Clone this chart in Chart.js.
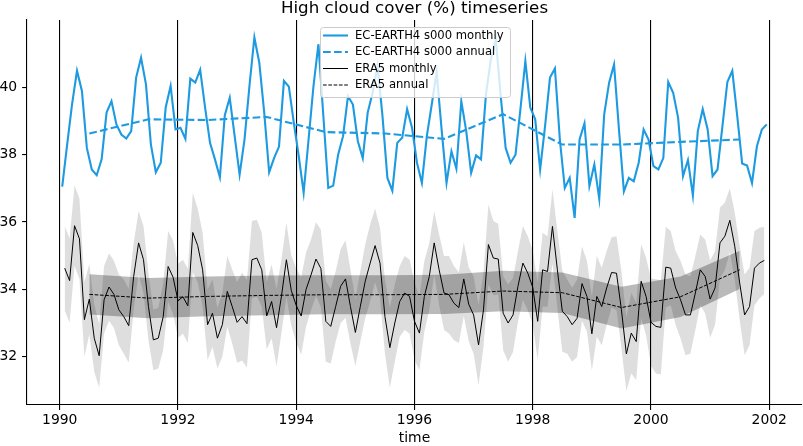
<!DOCTYPE html>
<html>
<head>
<meta charset="utf-8">
<script src="https://cdn.jsdelivr.net/npm/chart.js@4.4.1/dist/chart.umd.min.js"></script>
<style>
  html, body { margin: 0; padding: 0; background: #fff; }
  #wrap { width: 803px; height: 446px; }
</style>
</head>
<body>
<div id="wrap"><canvas id="chart" width="803" height="446"></canvas></div>
<script>
// EC-EARTH4 s000, monthly means Jan 1990 - Dec 2001 (%)
const ecMonthly = [
  37.05, 38.3, 39.5, 40.49, 39.89, 38.2, 37.56, 37.39, 37.86, 39.25, 39.59, 38.9,
  38.6, 38.48, 38.7, 40.29, 40.88, 40.09, 38.3, 37.48, 37.76, 39.4, 40.04, 38.75,
  38.8, 38.47, 40.26, 40.14, 40.52, 39.4, 38.35, 37.86, 37.33, 39.17, 39.69, 38.55,
  37.41, 38.45, 40.04, 41.48, 40.73, 39.25, 37.48, 37.9, 38.24, 40.19, 40.02, 38.95,
  37.96, 36.87, 38.45, 40.04, 41.28, 39.15, 37.01, 37.08, 38.0, 38.55, 39.74, 39.49,
  38.4, 37.9, 39.25, 39.84, 40.64, 39.15, 37.31, 36.93, 38.35, 38.5, 39.35, 38.8,
  37.76, 37.16, 38.55, 39.49, 40.44, 38.75, 37.16, 38.1, 37.58, 39.59, 38.7, 37.46,
  37.98, 37.86, 39.79, 40.83, 41.43, 39.74, 38.2, 37.76, 38.0, 39.35, 40.78, 39.4,
  39.05, 37.56, 38.85, 40.29, 40.56, 38.45, 37.01, 37.31, 36.12, 38.45, 38.93, 37.07,
  37.71, 36.69, 39.2, 40.14, 40.68, 38.75, 36.91, 37.31, 37.21, 37.76, 38.75, 38.45,
  37.66, 37.56, 37.9, 40.16, 39.84, 39.1, 37.36, 37.84, 36.79, 38.7, 39.35, 38.75,
  37.36, 37.56, 38.85, 40.16, 40.49, 39.15, 37.74, 37.68, 37.16, 38.25, 38.75, 38.9
];
// EC-EARTH4 s000, annual means (mid-year)
const ecAnnual = [38.63, 39.05, 39.03, 39.12, 38.67, 38.63, 38.47, 39.2, 38.3, 38.3, 38.38, 38.45];

// ERA5, monthly means Feb 1990 - Dec 2001 (%)
const era5Monthly = [
  34.63, 34.26, 35.89, 35.5, 33.1, 33.71, 32.55, 32.03, 33.69, 34.07, 33.85,
  33.39, 33.19, 32.92, 34.38, 35.38, 34.88, 33.49, 32.5, 32.55, 33.19, 34.68, 34.36,
  33.66, 33.78, 33.51, 35.69, 35.3, 34.58, 32.95, 33.29, 32.55, 32.95, 33.94, 33.49,
  33.02, 33.19, 32.98, 34.88, 34.93, 34.58, 33.21, 33.64, 32.86, 33.8, 34.88, 33.96,
  33.52, 33.21, 34.0, 34.43, 34.9, 34.62, 33.05, 32.9, 33.49, 34.09, 34.31, 33.49,
  32.72, 33.49, 34.24, 34.78, 35.3, 34.78, 33.19, 32.27, 33.0, 33.64, 33.89, 33.79,
  33.05, 32.7, 33.79, 34.38, 35.38, 34.58, 33.89, 33.84, 33.59, 33.46, 34.31, 33.56,
  33.24, 32.35, 33.39, 35.33, 34.93, 34.9, 33.29, 33.0, 33.24, 34.09, 34.78, 34.48,
  34.06, 33.05, 34.58, 34.53, 35.87, 34.58, 33.35, 33.19, 32.95, 33.14, 34.17, 33.79,
  32.68, 33.79, 33.49, 34.04, 34.5, 34.48, 33.39, 32.08, 32.7, 32.45, 34.24, 33.79,
  33.02, 32.9, 32.87, 34.66, 34.63, 34.04, 33.69, 33.24, 33.24, 33.89, 34.58, 34.38,
  33.71, 34.04, 35.38, 35.58, 36.05, 35.28, 34.19, 33.24, 33.49, 34.63, 34.78, 34.86
];
// half width of the light grey band round ERA5 monthly
const era5Spread = [
  1.25, 1.25, 1.2, 1.2, 1.1, 1.05, 1.0, 0.95, 1.0, 1.0,
  1.0, 1.05, 1.1, 1.1, 1.0, 0.95, 1.0, 1.0, 0.9, 0.9,
  1.0, 1.05, 1.1, 1.1, 1.1, 1.1, 1.18, 1.1, 1.1, 1.05,
  1.0, 0.9, 0.95, 1.05, 1.1, 1.2, 1.3, 1.3, 1.15, 1.14,
  1.1, 1.0, 1.1, 1.15, 1.1, 1.1, 1.05, 1.1, 1.15, 1.1,
  1.05, 1.1, 1.15, 1.2, 1.1, 1.05, 1.1, 1.15, 1.1, 1.0,
  1.05, 1.1, 1.15, 1.1, 1.05, 1.1, 1.2, 1.15, 1.05, 1.1,
  1.1, 1.15, 1.1, 1.05, 1.0, 0.95, 1.05, 1.1, 1.15, 1.1,
  1.05, 1.1, 1.1, 1.15, 1.19, 1.1, 1.19, 1.1, 1.05, 1.1,
  1.15, 1.1, 1.05, 1.1, 1.1, 1.1, 1.15, 1.1, 1.05, 1.1,
  1.15, 1.2, 1.1, 1.1, 1.15, 1.1, 1.05, 1.1, 1.2, 1.15,
  1.1, 1.05, 1.1, 1.15, 1.1, 1.2, 1.15, 1.1, 1.15, 1.3,
  1.4, 1.4, 1.2, 1.1, 1.1, 1.15, 1.2, 1.15, 1.1, 1.05,
  1.1, 1.15, 1.1, 1.05, 1.0, 0.95, 1.0, 1.1, 1.2, 1.15,
  1.1, 1.05, 1.0
];
// ERA5 annual means and the half width of the dark band
const era5Annual = [33.85, 33.74, 33.79, 33.82, 33.84, 33.84, 33.85, 33.95, 33.9, 33.46, 33.78, 34.58];
const era5AnnualSpread = [0.6, 0.6, 0.59, 0.59, 0.58, 0.58, 0.58, 0.6, 0.6, 0.62, 0.6, 0.57];

const years = [1990, 1991, 1992, 1993, 1994, 1995, 1996, 1997, 1998, 1999, 2000, 2001];
const xTicks = [1990, 1992, 1994, 1996, 1998, 2000, 2002];
const yTicks = [32, 34, 36, 38, 40];

const blue = "#1d9ae0";
const font = "DejaVu Sans";

// time axis in decimal years
const ecPts = ecMonthly.map((v, i) => ({ x: 1990 + (i + 0.5) / 12, y: v }));
const ecAnnPts = ecAnnual.map((v, i) => ({ x: years[i] + 0.5, y: v }));
const eraPts = era5Monthly.map((v, i) => ({ x: 1990 + (i + 1) / 12, y: v }));
const eraLow = era5Monthly.map((v, i) => ({ x: 1990 + (i + 1) / 12, y: v - era5Spread[i] }));
const eraHigh = era5Monthly.map((v, i) => ({ x: 1990 + (i + 1) / 12, y: v + era5Spread[i] }));
const eraAnnPts = era5Annual.map((v, i) => ({ x: years[i] + 0.5, y: v }));
const eraAnnLow = era5Annual.map((v, i) => ({ x: years[i] + 0.5, y: v - era5AnnualSpread[i] }));
const eraAnnHigh = era5Annual.map((v, i) => ({ x: years[i] + 0.5, y: v + era5AnnualSpread[i] }));

const bandStyle = { borderWidth: 0, pointRadius: 0, tension: 0 };

// matplotlib style legend box inside the plot (upper center)
const boxLegend = {
  id: "boxLegend",
  afterDraw(chart) {
    const c = chart.ctx;
    const items = chart.data.datasets.filter(d => d.inLegend);
    const left = 320, top = 27, w = 190, h = 70;
    c.save();
    c.beginPath();
    c.roundRect(left + 0.5, top + 0.5, w, h, 3);
    c.fillStyle = "rgba(255,255,255,0.8)";
    c.fill();
    c.strokeStyle = "#cccccc";
    c.lineWidth = 1;
    c.stroke();
    c.font = "11.6px '" + font + "'";
    c.textBaseline = "middle";
    items.forEach((d, k) => {
      const y = top + 8.5 + k * 16.5;
      c.beginPath();
      c.setLineDash(d.borderDash || []);
      c.strokeStyle = d.borderColor;
      c.lineWidth = d.borderWidth;
      c.moveTo(left + 3, y);
      c.lineTo(left + 28, y);
      c.stroke();
      c.setLineDash([]);
      c.fillStyle = "#000";
      c.fillText(d.label, left + 35, y);
    });
    c.restore();
  }
};

const ctx = document.getElementById("chart").getContext("2d");
new Chart(ctx, {
  type: "line",
  data: {
    datasets: [
      { label: "EC-EARTH4 s000 monthly", data: ecPts, borderColor: blue, borderWidth: 2.1, pointRadius: 0, tension: 0, order: 1, inLegend: true },
      { label: "EC-EARTH4 s000 annual", data: ecAnnPts, borderColor: blue, borderWidth: 2.1, borderDash: [7.7, 3.3], pointRadius: 0, tension: 0, order: 1, inLegend: true },
      { label: "ERA5 monthly", data: eraPts, borderColor: "#000", borderWidth: 1.0, pointRadius: 0, tension: 0, order: 0, inLegend: true },
      { label: "ERA5 annual", data: eraAnnPts, borderColor: "#000", borderWidth: 1.0, borderDash: [3.7, 1.6], pointRadius: 0, tension: 0, order: 0, inLegend: true },
      // light band: monthly spread
      { label: "era5 low", data: eraLow, ...bandStyle, fill: false, order: 6 },
      { label: "era5 high", data: eraHigh, ...bandStyle, fill: { target: 4 }, backgroundColor: "rgba(0,0,0,0.13)", order: 5 },
      // dark band: annual spread
      { label: "era5 ann low", data: eraAnnLow, ...bandStyle, fill: false, order: 4 },
      { label: "era5 ann high", data: eraAnnHigh, ...bandStyle, fill: { target: 6 }, backgroundColor: "rgba(0,0,0,0.27)", order: 3 }
    ]
  },
  options: {
    responsive: false,
    animation: false,
    devicePixelRatio: 1,
    layout: { padding: { left: 0, right: 1, top: 0, bottom: 0 } },
    plugins: {
      legend: { display: false },
      tooltip: { enabled: false },
      title: {
        display: true,
        text: "High cloud cover (%) timeseries",
        color: "#000",
        fullSize: false,
        font: { family: font, size: 16.7, weight: "normal", lineHeight: 1 },
        padding: { top: 0, bottom: 3.3 }
      }
    },
    scales: {
      x: {
        type: "linear",
        min: 1989.446,
        max: 2002.554,
        afterBuildTicks: s => { s.ticks = xTicks.map(v => ({ value: v })); },
        afterFit: s => { s.height = 41; },
        ticks: {
          color: "#000",
          padding: 1.7,
          maxRotation: 0,
          font: { family: font, size: 13.9 },
          callback: v => String(v)
        },
        grid: { color: "#000", lineWidth: 1.1, tickLength: 4.9, drawOnChartArea: true },
        border: { display: true, color: "#000", width: 1.1 },
        title: {
          display: true,
          text: "time",
          color: "#000",
          font: { family: font, size: 13.9, lineHeight: 1 },
          padding: { top: 0, bottom: 0.5 }
        }
      },
      y: {
        min: 30.565,
        max: 42.0,
        afterBuildTicks: s => { s.ticks = yTicks.map(v => ({ value: v })); },
        afterFit: s => { s.width = 27; },
        ticks: {
          color: "#000",
          padding: 4.9,
          font: { family: font, size: 13.9 },
          callback: v => String(v)
        },
        grid: { color: "#000", lineWidth: 1.1, tickLength: 4.9, drawOnChartArea: false },
        border: { display: true, color: "#000", width: 1.1 }
      }
    }
  },
  plugins: [boxLegend]
});
</script>
</body>
</html>
